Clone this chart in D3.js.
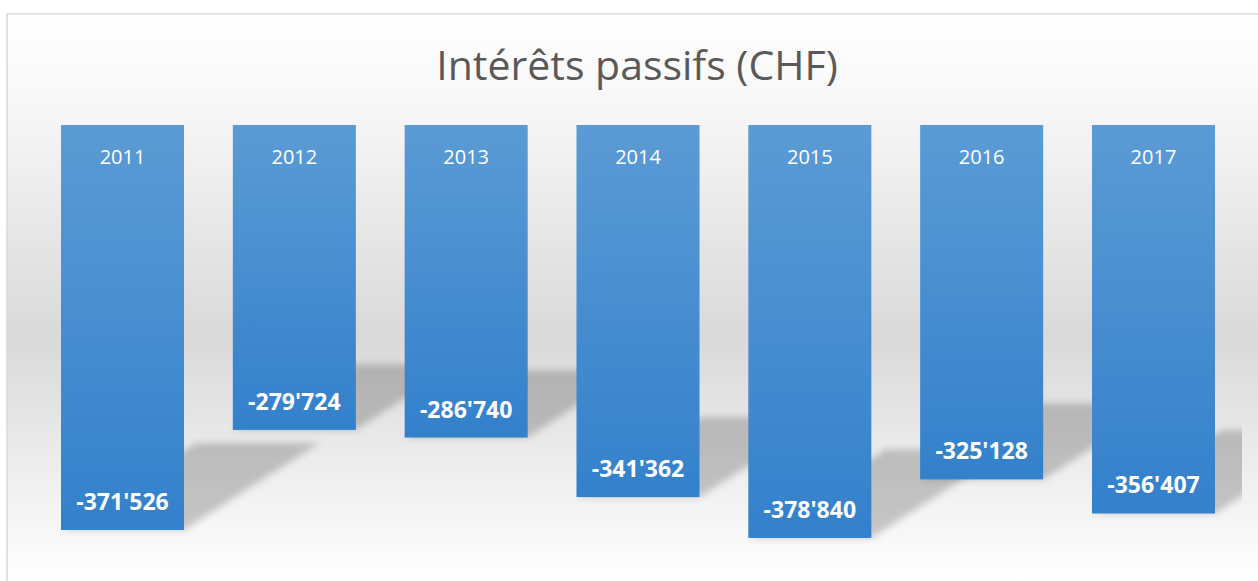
<!DOCTYPE html>
<html>
<head>
<meta charset="utf-8">
<script src="https://cdnjs.cloudflare.com/ajax/libs/d3/7.8.5/d3.min.js"></script>
<style>
  html, body { margin: 0; padding: 0; background: #ffffff; }
  #chart { width: 1258px; height: 581px; }
  text { font-family: "Open Sans", "Noto Sans", sans-serif; }
</style>
</head>
<body>
<div id="chart"></div>
<script>
// data
var years = ['2011', '2012', '2013', '2014', '2015', '2016', '2017'];
var values = [-371526, -279724, -286740, -341362, -378840, -325128, -356407];
var y_domain = [-400000, 0];

var view_width = 1258;
var view_height = 581;

// perspective shadow: fraction of bar height, horizontal skew per px of shadow
var shadow_scale = 0.215;
var shadow_skew = 1.55;

var fmt = d3.formatLocale({decimal: '.', thousands: "'", grouping: [3], currency: ['', ''], minus: '-'}).format(',d');

var svg = d3.select('#chart')
    .append('svg')
        .attr('width', view_width)
        .attr('height', view_height);

var defs = svg.append('defs');

var bg = defs.append('linearGradient')
    .attr('id', 'bg_grad')
    .attr('x1', 0).attr('y1', 0).attr('x2', 0).attr('y2', 1);
bg.append('stop').attr('offset', 0).attr('stop-color', '#ffffff');
bg.append('stop').attr('offset', 0.15).attr('stop-color', '#f8f8f8');
bg.append('stop').attr('offset', 0.57).attr('stop-color', '#d9d9d9');
bg.append('stop').attr('offset', 1).attr('stop-color', '#ffffff');

var bar_grad = defs.append('linearGradient')
    .attr('id', 'bar_grad')
    .attr('x1', 0).attr('y1', 0).attr('x2', 0).attr('y2', 1);
bar_grad.append('stop').attr('offset', 0).attr('stop-color', '#5b9bd5');
bar_grad.append('stop').attr('offset', 1).attr('stop-color', '#3380cb');

defs.append('filter')
    .attr('id', 'blur')
    .attr('x', -0.2).attr('y', -0.5).attr('width', 1.4).attr('height', 2)
    .append('feGaussianBlur')
        .attr('stdDeviation', 3.5);

defs.append('clipPath')
    .attr('id', 'plot_clip')
    .append('rect')
        .attr('x', 8).attr('y', 15)
        .attr('width', 1234).attr('height', 562);

// chart area
svg.append('rect')
    .attr('x', 7)
    .attr('y', 14)
    .attr('width', 1262)
    .attr('height', 568)
    .attr('fill', 'url(#bg_grad)')
    .attr('stroke', '#d9d9d9')
    .attr('stroke-width', 1.5);

svg.append('text')
    .attr('x', 637)
    .attr('y', 80)
    .attr('text-anchor', 'middle')
    .attr('fill', '#595959')
    .style('font-size', '41px')
    .text('Intérêts passifs (CHF)');

var x_scale = d3.scaleBand()
    .domain(years)
    .range([36.6, 1239.4])
    .paddingInner(0.284)
    .paddingOuter(0.142);

var y_scale = d3.scaleLinear()
    .domain(y_domain)
    .range([125 + 436, 125]);

var data = years.map(function(d, i) { return {year: d, value: values[i]}; });

// shadows first so every bar sits on top of them
svg.append('g')
    .attr('clip-path', 'url(#plot_clip)')
    .selectAll('polygon')
    .data(data)
    .enter()
    .append('polygon')
        .attr('points', function(d) {
            var x0 = x_scale(d.year);
            var x1 = x0 + x_scale.bandwidth();
            var yb = y_scale(d.value);
            var sh = (yb - y_scale(0)) * shadow_scale;
            var s = sh * shadow_skew;
            return [[x0, yb], [x1, yb], [x1 + s, yb - sh], [x0 + s, yb - sh]].join(' ');
        })
        .attr('fill', '#000000')
        .attr('fill-opacity', 0.2)
        .attr('filter', 'url(#blur)');

var bars = svg.append('g')
    .selectAll('g')
    .data(data)
    .enter()
    .append('g');

bars.append('rect')
    .attr('x', function(d) { return x_scale(d.year); })
    .attr('y', y_scale(0))
    .attr('width', x_scale.bandwidth())
    .attr('height', function(d) { return y_scale(d.value) - y_scale(0); })
    .attr('fill', 'url(#bar_grad)');

bars.append('text')
    .attr('x', function(d) { return x_scale(d.year) + x_scale.bandwidth() / 2; })
    .attr('y', y_scale(0) + 39)
    .attr('text-anchor', 'middle')
    .attr('fill', '#ffffff')
    .style('font-size', '20px')
    .text(function(d) { return d.year; });

bars.append('text')
    .attr('x', function(d) { return x_scale(d.year) + x_scale.bandwidth() / 2; })
    .attr('y', function(d) { return y_scale(d.value) - 20; })
    .attr('text-anchor', 'middle')
    .attr('fill', '#ffffff')
    .style('font-size', '23px')
    .style('font-weight', 'bold')
    .text(function(d) { return fmt(d.value); });
</script>
</body>
</html>
